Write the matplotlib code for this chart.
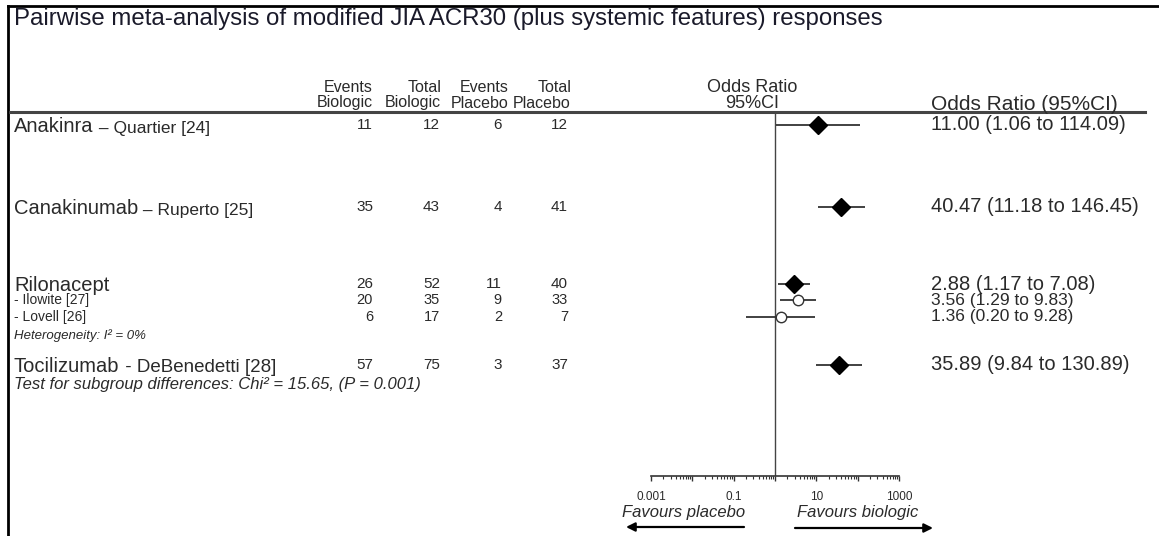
import matplotlib
matplotlib.use('Agg')
import matplotlib.pyplot as plt
import matplotlib.ticker as mticker

plt.rcParams['font.family'] = ['Liberation Sans', 'DejaVu Sans']

# data
drugs = ['Anakinra', 'Canakinumab', 'Rilonacept', '- Ilowite [27]', '- Lovell [26]', 'Tocilizumab']
refs = [' \u2013 Quartier [24]', ' \u2013 Ruperto [25]', '', '', '', ' - DeBenedetti [28]']
pooled = [True, True, True, False, False, True]
events_bio = [11, 35, 26, 20, 6, 57]
total_bio = [12, 43, 52, 35, 17, 75]
events_pla = [6, 4, 11, 9, 2, 3]
total_pla = [12, 41, 40, 33, 7, 37]
odds = [11.00, 40.47, 2.88, 3.56, 1.36, 35.89]
ci_low = [1.06, 11.18, 1.17, 1.29, 0.20, 9.84]
ci_high = [114.09, 146.45, 7.08, 9.83, 9.28, 130.89]
head_top = ['Events', 'Total', 'Events', 'Total']
head_bot = ['Biologic', 'Biologic', 'Placebo', 'Placebo']
tick_vals = [0.001, 0.1, 10, 1000]

title = 'Pairwise meta-analysis of modified JIA ACR30 (plus systemic features) responses'
het_note = 'Heterogeneity: I\u00b2 = 0%'
test_note = 'Test for subgroup differences: Chi\u00b2 = 15.65, (P = 0.001)'

# layout (pixels of the 1159x536 canvas)
W, H = 1159, 536
row_y = [125, 207, 284, 300, 317, 365]
col_x = [373, 440, 502, 568]
head_x = [373, 441, 509, 571]
tc = '#2a2a2a'

fig = plt.figure(figsize=(W / 100, H / 100), dpi=100)
cv = fig.add_axes([0, 0, 1, 1])
cv.set_xlim(0, W)
cv.set_ylim(H, 0)
cv.axis('off')

# frame
cv.plot([8, W], [6, 6], color='black', lw=2)
cv.plot([8, 8], [6, H], color='black', lw=2)

cv.text(14, 19, title, fontsize=17.3, color='#1a1a2a', va='center')

# header
for x, a, b in zip(head_x, head_top, head_bot):
    cv.text(x, 87, a, fontsize=11.5, color=tc, ha='right', va='center')
    cv.text(x, 103, b, fontsize=11.5, color=tc, ha='right', va='center')
cv.text(752, 87, 'Odds Ratio', fontsize=13, color=tc, ha='center', va='center')
cv.text(752, 103, '95%CI', fontsize=13, color=tc, ha='center', va='center')
cv.text(931, 104, 'Odds Ratio (95%CI)', fontsize=15, color=tc, va='center')
cv.plot([10, 1145], [112, 112], color='#444444', lw=2.2)

# rows of the table
for i, y in enumerate(row_y):
    if pooled[i]:
        t = cv.text(14, y + 7, drugs[i], fontsize=14.5, color=tc, va='baseline')
        if refs[i]:
            fs = 13.5 if drugs[i] == 'Tocilizumab' else 12.5
            cv.annotate(refs[i], xy=(1, 0), xycoords=t, fontsize=fs, color=tc, va='bottom')
        nfs, vfs = 11, 14.5
    else:
        cv.text(14, y, drugs[i], fontsize=10, color=tc, va='center')
        nfs, vfs = 10.5, 12.5
    for x, v in zip(col_x, [events_bio[i], total_bio[i], events_pla[i], total_pla[i]]):
        cv.text(x, y, str(v), fontsize=nfs, color=tc, ha='right', va='center')
    lab = '%.2f (%.2f to %.2f)' % (odds[i], ci_low[i], ci_high[i])
    cv.text(931, y, lab, fontsize=vfs, color=tc, va='center')

cv.text(14, 336, het_note, fontsize=9.5, color=tc, style='italic', va='center')
cv.text(14, 384, test_note, fontsize=12, color=tc, style='italic', va='center')

# forest panel
x0, x1, ytop, ybot = 651, 899, 112, 476
fx = fig.add_axes([x0 / W, 1 - ybot / H, (x1 - x0) / W, (ybot - ytop) / H])
fx.patch.set_alpha(0)
fx.set_xscale('log')
fx.set_xlim(0.001, 1000)
fx.set_ylim(ybot, ytop)
for s in ['top', 'left', 'right']:
    fx.spines[s].set_visible(False)
fx.spines['bottom'].set_color('#333333')
fx.spines['bottom'].set_linewidth(1.2)
fx.set_yticks([])
fx.xaxis.set_major_locator(mticker.LogLocator(base=10, numticks=20))
fx.xaxis.set_minor_locator(mticker.LogLocator(base=10, subs=range(2, 10), numticks=20))
fx.xaxis.set_major_formatter(mticker.FuncFormatter(lambda v, p: ('%g' % v) if v in tick_vals else ''))
fx.xaxis.set_minor_formatter(mticker.NullFormatter())
fx.tick_params(axis='x', which='major', length=3.5, width=1, color='#333333', labelsize=8.5,
               labelcolor=tc, pad=7.5)
fx.tick_params(axis='x', which='minor', length=2.5, width=0.8, color='#333333')

fx.vlines(1, 113, ybot, color='#444444', lw=1)
for i, y in enumerate(row_y):
    fx.hlines(y, ci_low[i], ci_high[i], color='#333333', lw=1.3)
    if pooled[i]:
        fx.plot(odds[i], y, marker='D', color='black', markersize=9, zorder=3)
    else:
        fx.plot(odds[i], y, marker='o', markerfacecolor='white', markeredgecolor='#333333',
                markersize=7.5, zorder=3)

# favours labels and arrows
cv.text(684, 512, 'Favours placebo', fontsize=12, color=tc, style='italic', ha='center', va='center')
cv.text(858, 512, 'Favours biologic', fontsize=12, color=tc, style='italic', ha='center', va='center')
cv.annotate('', xy=(626, 527), xytext=(744, 527),
            arrowprops=dict(arrowstyle='-|>', color='black', lw=1.6, mutation_scale=13, shrinkA=0, shrinkB=0))
cv.annotate('', xy=(933, 528), xytext=(795, 528),
            arrowprops=dict(arrowstyle='-|>', color='black', lw=1.6, mutation_scale=13, shrinkA=0, shrinkB=0))

fig.savefig('out.png', dpi=100)
